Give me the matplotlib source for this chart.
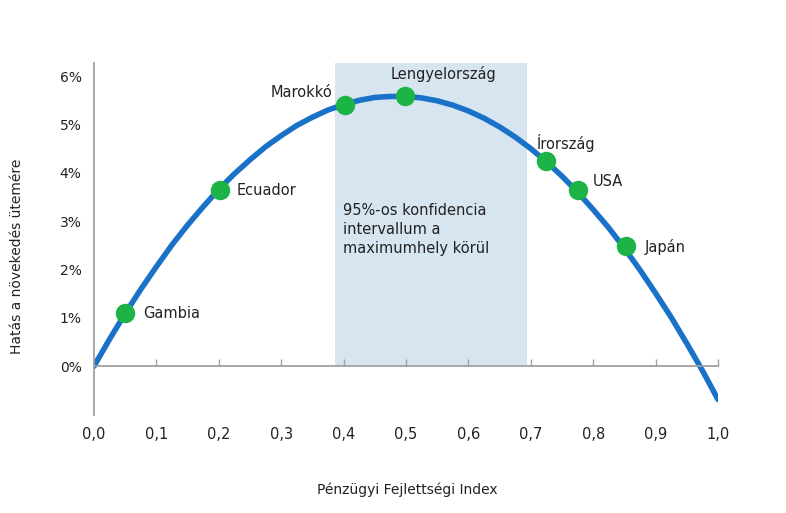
import matplotlib.pyplot as plt
import numpy as np

# curve values (x = index, y = effect in %)
curve_x = [0.0, 0.025, 0.05, 0.075, 0.1, 0.125, 0.15, 0.175, 0.2, 0.225, 0.25,
           0.275, 0.3, 0.325, 0.35, 0.375, 0.4, 0.425, 0.45, 0.475, 0.5,
           0.525, 0.55, 0.575, 0.6, 0.625, 0.65, 0.675, 0.7, 0.725, 0.75,
           0.775, 0.8, 0.825, 0.85, 0.875, 0.9, 0.925, 0.95, 0.975, 1.0]
curve_y = [0.0, 0.56, 1.09, 1.59, 2.06, 2.51, 2.92, 3.30, 3.66, 3.98, 4.27,
           4.54, 4.77, 4.98, 5.15, 5.30, 5.41, 5.50, 5.56, 5.58, 5.58,
           5.55, 5.49, 5.40, 5.28, 5.13, 4.95, 4.74, 4.50, 4.23, 3.93,
           3.60, 3.24, 2.86, 2.44, 1.99, 1.51, 1.01, 0.47, -0.09, -0.69]

countries = ['Gambia', 'Ecuador', 'Marokkó', 'Lengyelország', 'Írország', 'USA', 'Japán']
country_x = [0.05, 0.202, 0.402, 0.498, 0.725, 0.776, 0.853]
country_y = [1.10, 3.64, 5.40, 5.58, 4.25, 3.64, 2.48]

ci_low, ci_high = 0.386, 0.694

x_ticks = [0.0, 0.1, 0.2, 0.3, 0.4, 0.5, 0.6, 0.7, 0.8, 0.9, 1.0]
y_ticks = [0, 1, 2, 3, 4, 5, 6]

# label offsets in pixels (dx, dy, ha)
label_pos = {
    'Gambia': (18, 0, 'left'),
    'Ecuador': (17, 0, 'left'),
    'Marokkó': (-12, 13, 'right'),
    'Lengyelország': (-14, 22, 'left'),
    'Írország': (-10, 18, 'left'),
    'USA': (15, 9, 'left'),
    'Japán': (18, -1, 'left'),
}

plt.rcParams['font.family'] = ['DejaVu Sans']

fig = plt.figure(figsize=(7.86, 5.13), dpi=100)
ax = fig.add_axes([0.1196, 0.191, 0.7939, 0.686])

ax.set_xlim(0, 1.0)
ax.set_ylim(-1.01, 6.27)

ax.axvspan(ci_low, ci_high, ymin=(0 + 1.01) / 7.28, ymax=1.0, color='#d7e5f1', zorder=0, lw=0)

ax.plot(curve_x, curve_y, color='#1a72c8', lw=4.0, solid_capstyle='round',
        solid_joinstyle='round', zorder=2)
ax.plot(country_x, country_y, 'o', color='#1db447', markersize=13, zorder=3)

for name, x, y in zip(countries, country_x, country_y):
    dx, dy, ha = label_pos[name]
    ax.annotate(name, (x, y), xytext=(dx, dy), textcoords='offset pixels',
                ha=ha, va='center', fontsize=10.5, color='#222222')

ax.text(0.399, 3.38, '95%-os konfidencia\nintervallum a\nmaximumhely körül',
        ha='left', va='top', fontsize=10.5, color='#222222', linespacing=1.35)

for s in ['top', 'right']:
    ax.spines[s].set_visible(False)
ax.spines['bottom'].set_position(('data', 0))
ax.spines['bottom'].set_color('#a0a0a0')
ax.spines['bottom'].set_linewidth(1.3)
ax.spines['left'].set_color('#a0a0a0')
ax.spines['left'].set_linewidth(1.3)

ax.set_xticks(x_ticks)
ax.set_xticklabels([('%.1f' % v).replace('.', ',') for v in x_ticks])
ax.tick_params(axis='x', direction='in', length=5, width=1.0, color='#a0a0a0',
               pad=44, labelsize=10.5, labelcolor='#222222')
ax.set_yticks(y_ticks)
ax.set_yticklabels(['%d%%' % v for v in y_ticks])
ax.tick_params(axis='y', length=0, pad=9, labelsize=10, labelcolor='#222222')

fig.text(0.518, 0.045, 'Pénzügyi Fejlettségi Index', ha='center', va='center',
         fontsize=10, color='#222222')
fig.text(0.022, 0.50, 'Hatás a növekedés ütemére', ha='center', va='center',
         rotation=90, fontsize=10, color='#222222')

plt.savefig('out.png', dpi=100)
